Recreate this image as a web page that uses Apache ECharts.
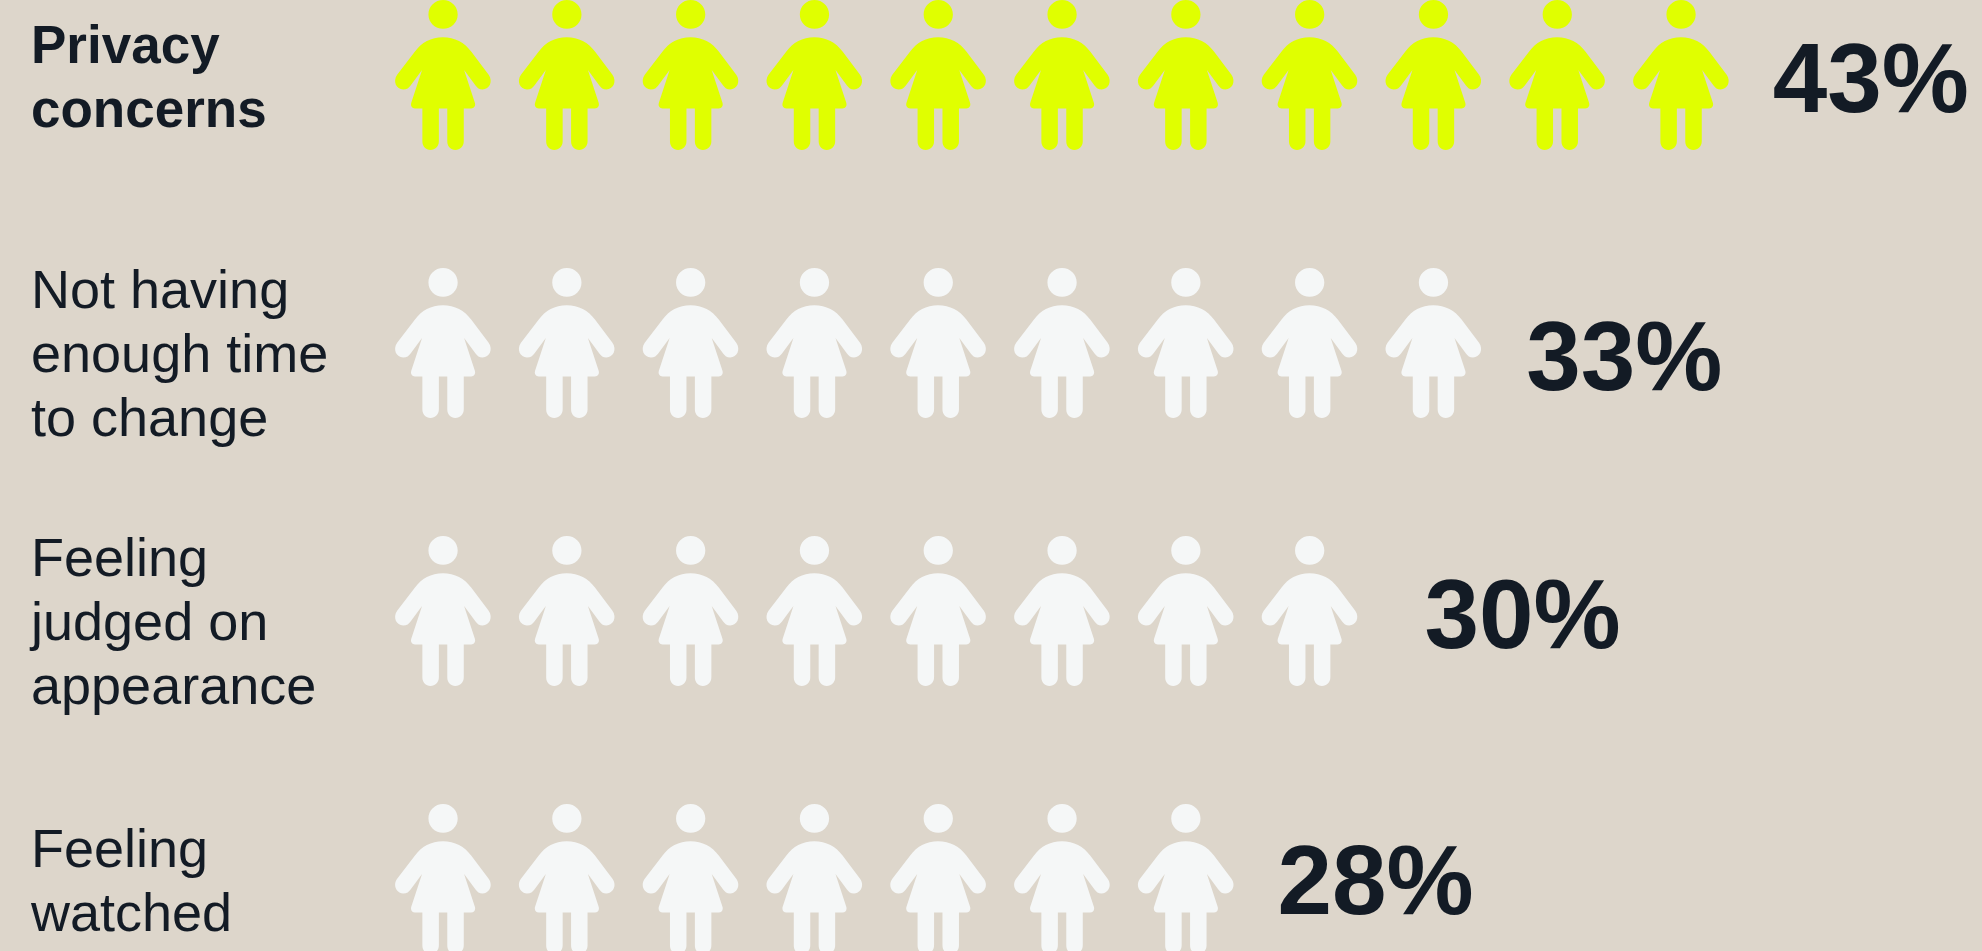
<!DOCTYPE html>
<html>
<head>
<meta charset="utf-8">
<title>Barriers to change</title>
<style>
html,body{margin:0;padding:0;background:#ddd6cb;overflow:hidden}
#chart{width:1982px;height:951px}
</style>
<script src="https://cdn.jsdelivr.net/npm/echarts@6/dist/echarts.min.js"></script>
</head>
<body>
<div id="chart"></div>
<script>
// Survey answers, one row per barrier; each figure stands for roughly four per cent.
var categories = ['Privacy\nconcerns', 'Not having\nenough time\nto change', 'Feeling\njudged on\nappearance', 'Feeling\nwatched'];
var percentValues = [43, 33, 30, 28];
var figureCounts = [11, 9, 8, 7];
var highlightedRows = [0];

// Per-row nudges for the percentage text, in pixels.
var labelGaps = [30, 31, 53, 30];
var labelLifts = [10, 20, 10, 8];

var INK = '#131b25', LIME = '#e0ff00', PALE = '#f5f7f7', PAPER = '#ddd6cb';
var FONT = '"Liberation Sans", Arial, sans-serif';

// A standing figure in a dress: head, then body with arms and legs.
var FIGURE = 'path://M190.5 3C214.5 3 234 22 234 46C234 70 214.5 89 190.5 89C166.5 89 147 70 147 46C147 22 166.5 3 190.5 3Z' +
  'M190 114C225 114 255 130 274 157L326 226C340 246 328 270 308 270C298 270 292 265 287 258L253 212L285 310' +
  'C288 320 282 327 274 327L252 327L252 425C252 441 241 451 227 451C213 451 203 441 203 425L203 327L178 327L178 425' +
  'C178 441 167 451 153 451C139 451 129 441 129 425L129 327L107 327C99 327 93 320 96 310L128 212L94 258' +
  'C89 265 83 270 72 270C52 270 40 246 54 226L107 157C126 130 155 114 190 114Z';

var chart = echarts.init(document.getElementById('chart'), null, {renderer: 'canvas'});

chart.setOption({
  backgroundColor: PAPER,
  animation: false,
  grid: {left: 381, top: -59, width: 1485.6, height: 1072, containLabel: false, outerBoundsMode: 'none'},
  xAxis: {type: 'value', min: 0, max: 12, show: false},
  yAxis: {
    type: 'category',
    inverse: true,
    data: categories,
    axisLine: {show: false},
    axisTick: {show: false},
    splitLine: {show: false},
    axisLabel: {
      interval: 0,
      margin: 350,
      align: 'left',
      formatter: function (text, index) {
        var style = highlightedRows.indexOf(index) >= 0 ? 'strong' : 'plain';
        var lines = text.split('\n');
        var body = lines.map(function (line) { return '{' + style + '|' + line + '}'; }).join('\n');
        return (lines.length === 3 ? '{padTall|}\n' : '{padShort|}\n') + body;
      },
      rich: {
        plain: {fontFamily: FONT, fontSize: 54, lineHeight: 64, color: INK, align: 'left'},
        strong: {fontFamily: FONT, fontSize: 53, fontWeight: 'bold', lineHeight: 64, color: INK, align: 'left'},
        padTall: {lineHeight: 29, fontSize: 1, height: 29},
        padShort: {lineHeight: 10, fontSize: 1, height: 10}
      }
    }
  },
  series: [{
    type: 'pictorialBar',
    symbol: FIGURE,
    symbolSize: [95.6, 150],
    symbolRepeat: true,
    symbolMargin: '14.1!',
    barWidth: 150,
    silent: true,
    data: figureCounts.map(function (count, i) {
      return {
        value: count,
        itemStyle: {color: highlightedRows.indexOf(i) >= 0 ? LIME : PALE},
        label: {
          show: true,
          position: 'right',
          distance: 0,
          offset: [labelGaps[i], labelLifts[i]],
          formatter: percentValues[i] + '%',
          fontFamily: FONT,
          fontSize: 98,
          fontWeight: 'bold',
          color: INK
        }
      };
    })
  }]
});
</script>
</body>
</html>
